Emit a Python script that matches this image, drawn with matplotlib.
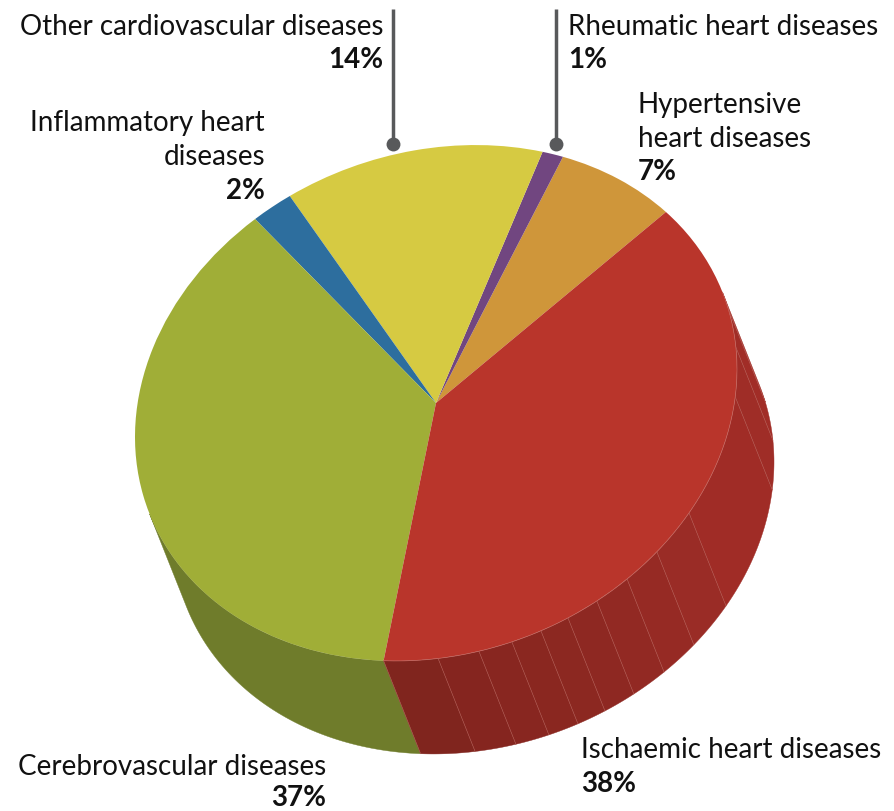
import numpy as np
import matplotlib
matplotlib.use("Agg")
import matplotlib.pyplot as plt
from matplotlib.patches import Polygon
from matplotlib.transforms import Affine2D

# data (slices counter-clockwise from the orange one)
categories = ["Hypertensive heart diseases", "Rheumatic heart diseases",
              "Other cardiovascular diseases", "Inflammatory heart diseases",
              "Cerebrovascular diseases", "Ischaemic heart diseases"]
printed_percent = [7, 1, 14, 2, 37, 38]
# slice shares as actually drawn in the picture (the printed labels are rounded)
values = [6.9, 1.17, 13.83, 2.19, 36.94, 38.94]
top_colors = ["#cf963a", "#714680", "#d6ca42", "#2d6e9e", "#a0ae37", "#b9352b"]
side_green = "#6f7c2b"
facet_edges = [-89.6, -81.8, -75.4, -69.6, -64, -57.7, -50.6, -42.8, -32.8, -6.2, 4.9, 13.8]
facet_colors = ["#80251e", "#85251f", "#882620", "#8a2720", "#8c2821", "#8e2822", "#922923",
                "#962a24", "#9a2c26", "#a02c26", "#9f2d27", "#a12d27", "#a32e28"]

FONT = ["Lato", "Open Sans", "DejaVu Sans"]
FS = 20

fig = plt.figure(figsize=(8.94, 8.12), dpi=100)
ax = fig.add_axes([0, 0, 1, 1])

wedges, _ = ax.pie(values, colors=top_colors, startangle=40.2, counterclock=True,
                   wedgeprops=dict(linewidth=0))
ax.set_aspect("auto")
ax.set_xlim(0, 894)
ax.set_ylim(812, 0)
ax.axis("off")

tilt = Affine2D.from_values(301, -34, 0, -255.7, 436, 404)
top_tf = tilt + ax.transData
depth = np.array([37, 93])


def arc_pts(a0, a1):
    t = np.radians(np.linspace(a0, a1, 60))
    return tilt.transform(np.column_stack([np.cos(t), np.sin(t)]))


def side_poly(a0, a1, color):
    arc = arc_pts(a0, a1)
    pts = np.vstack([arc, (arc + depth)[::-1]])
    ax.add_patch(Polygon(pts, closed=True, facecolor=color, edgecolor=color, lw=0.3, zorder=1))


def rim_line(a):
    p = arc_pts(a, a)[0]
    ax.plot([p[0], p[0] + depth[0]], [p[1], p[1] + depth[1]], color="#b8655d", lw=0.45,
            alpha=0.75, zorder=2)


green, red = wedges[4], wedges[5]
vis0, vis1 = 197.9, 377.9
side_poly(vis0, green.theta2, side_green)
edges = [red.theta1 - 360] + facet_edges + [vis1 - 360]
for a0, a1, c in zip(edges[:-1], edges[1:], facet_colors):
    side_poly(a0, a1, c)
for a in facet_edges:
    rim_line(a)
rim_line(green.theta2)

for w in wedges:
    w.set_transform(top_tf)
    w.set_zorder(3)

# pale seam along the front of the red slice
seam = arc_pts(red.theta1, vis1)
ax.plot(seam[:, 0], seam[:, 1], color="#c9716a", lw=0.5, alpha=0.8, zorder=4)

# leader lines
for x in (393, 556):
    ax.plot([x, x], [10, 145], color="#58595b", lw=2.5, zorder=4, solid_capstyle="butt")
    ax.plot([x], [145], "o", color="#58595b", ms=10, mew=0, zorder=4)


def label(x, y, s, ha, bold=False):
    ax.text(x, y, s, ha=ha, va="baseline", fontsize=FS, family=FONT,
            fontweight="bold" if bold else "normal", color="#111111", zorder=5)


label(383, 35, "Other cardiovascular diseases", "right")
label(383, 68, "14%", "right", True)
label(568, 35, "Rheumatic heart diseases", "left")
label(568, 68, "1%", "left", True)
label(638, 113, "Hypertensive", "left")
label(638, 147, "heart diseases", "left")
label(638, 180, "7%", "left", True)
label(265, 131, "Inflammatory heart", "right")
label(265, 165, "diseases", "right")
label(265, 199, "2%", "right", True)
label(326, 775, "Cerebrovascular diseases", "right")
label(326, 806, "37%", "right", True)
label(581, 758, "Ischaemic heart diseases", "left")
label(581, 792, "38%", "left", True)

fig.savefig("out.png", dpi=100, facecolor="white")
